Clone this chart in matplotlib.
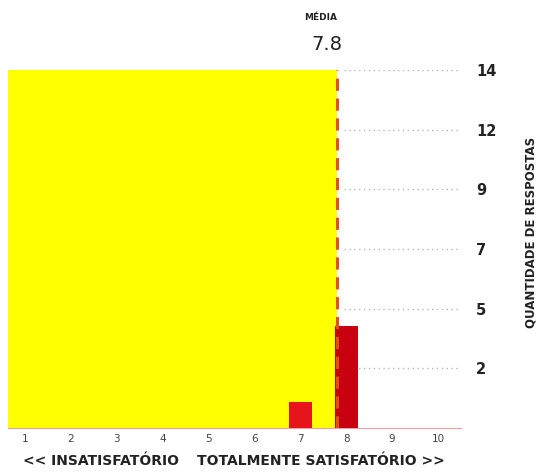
import numpy as np
import matplotlib.pyplot as plt

scores = [7, 8]
counts = [1, 4]
bar_colors = ['#e8141c', '#c8000f']
x_labels = ['1', '2', '3', '4', '5', '6', '7', '8', '9', '10']
y_max = 14
media = 7.8

fig = plt.figure(figsize=(5.4, 4.72), dpi=100)
ax = fig.add_axes([8/540, 44/472, 453/540, 358/472])

x_lo, x_hi = 0.63, 10.5
ax.set_xlim(x_lo, x_hi)
ax.set_ylim(0, y_max)

# yellow area up to the mean
ax.fill_between([x_lo, media], 0, y_max, color='#ffff00', lw=0, zorder=1)

ax.bar(scores, counts, width=0.5, color=bar_colors, zorder=3)

# mean line
ax.axvline(media, color='#e0501c', lw=2.2, ls=(0, (4, 2.5)), zorder=4)

# right axis ticks (6 equal steps, rounded labels)
yticks = np.linspace(0, y_max, 7)[1:]
ax.hlines(yticks, media + 0.15, x_hi, colors='#b8b8b8', lw=1, ls=(0, (1, 2.5)), zorder=2)
ax.yaxis.tick_right()
ax.set_yticks(yticks)
ax.set_yticklabels([str(int(round(v))) for v in yticks], fontsize=10.5,
                   fontweight='bold', color='#222222')
ax.tick_params(axis='y', length=0, pad=11)

ax.set_xticks(range(1, 11))
ax.set_xticklabels(x_labels, fontsize=7.5, color='#444444')
ax.tick_params(axis='x', length=0, pad=4)

for s in ['top', 'left', 'right']:
    ax.spines[s].set_visible(False)
ax.spines['bottom'].set_color('#f0a0a0')
ax.spines['bottom'].set_linewidth(0.8)

fig.text(23/540, 1 - 461/472, '<< INSATISFATÓRIO', fontsize=10, fontweight='bold',
         color='#222222', va='center', ha='left')
fig.text(197/540, 1 - 461/472, 'TOTALMENTE SATISFATÓRIO >>', fontsize=10, fontweight='bold',
         color='#222222', va='center', ha='left')
fig.text(321/540, 1 - 18/472, 'MÉDIA', fontsize=6.5, fontweight='bold', color='#222222',
         ha='center', va='center')
fig.text(327/540, 1 - 45/472, '7.8', fontsize=14, color='#222222', ha='center', va='center')
fig.text(531/540, 1 - 232/472, 'QUANTIDADE DE RESPOSTAS', fontsize=8.5, fontweight='bold',
         color='#222222', rotation=90, ha='center', va='center')

fig.savefig('out.png', dpi=100)
